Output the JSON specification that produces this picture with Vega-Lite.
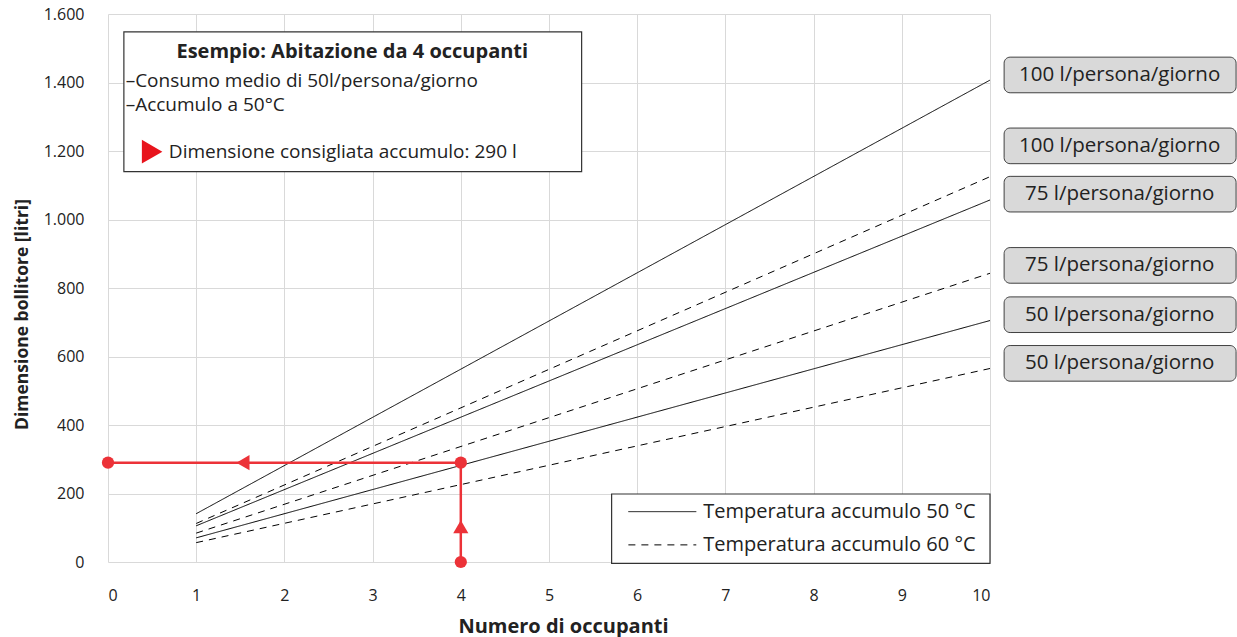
{
  "$schema": "https://vega.github.io/schema/vega-lite/v6.json",
  "width": 882,
  "height": 548,
  "autosize": {"type": "none"},
  "padding": {"left": 108, "top": 14, "right": 247, "bottom": 75},
  "background": "white",
  "config": {
    "font": "Open Sans",
    "view": {"stroke": null},
    "axisX": {
      "grid": true, "gridColor": "#d9d9d9", "gridWidth": 1,
      "domain": false, "ticks": false,
      "labelPadding": 25, "labelFontSize": 16, "labelColor": "#222",
      "titleFontSize": 20, "titleFontWeight": "bold", "titleColor": "#222",
      "titlePadding": 13, "titleX": 455
    },
    "axisY": {
      "grid": true, "gridColor": "#d9d9d9", "gridWidth": 1,
      "domain": false, "ticks": false,
      "labelPadding": 24, "labelFontSize": 16, "labelColor": "#222",
      "titleFontSize": 17.5, "titleFontWeight": "bold", "titleColor": "#222",
      "titlePadding": 12, "titleY": 300
    }
  },
  "datasets": {
    "lines": [
      {"s": "100-50", "t": "50", "x": 1, "y": 141},
      {"s": "100-50", "t": "50", "x": 10, "y": 1407},
      {"s": "100-60", "t": "60", "x": 1, "y": 112.5},
      {"s": "100-60", "t": "60", "x": 10, "y": 1125},
      {"s": "75-50", "t": "50", "x": 1, "y": 105.7},
      {"s": "75-50", "t": "50", "x": 10, "y": 1057},
      {"s": "75-60", "t": "60", "x": 1, "y": 84.3},
      {"s": "75-60", "t": "60", "x": 10, "y": 843},
      {"s": "50-50", "t": "50", "x": 1, "y": 70.5},
      {"s": "50-50", "t": "50", "x": 10, "y": 705},
      {"s": "50-60", "t": "60", "x": 1, "y": 56.5},
      {"s": "50-60", "t": "60", "x": 10, "y": 565}
    ],
    "labels": [
      {"label": "100 l/persona/giorno", "x": 10.16, "x2": 12.79, "xm": 11.47, "y": 1422, "y1": 1370, "y2": 1474},
      {"label": "100 l/persona/giorno", "x": 10.16, "x2": 12.79, "xm": 11.47, "y": 1215, "y1": 1163, "y2": 1267},
      {"label": "75 l/persona/giorno", "x": 10.16, "x2": 12.79, "xm": 11.47, "y": 1074, "y1": 1022, "y2": 1126},
      {"label": "75 l/persona/giorno", "x": 10.16, "x2": 12.79, "xm": 11.47, "y": 866, "y1": 814, "y2": 918},
      {"label": "50 l/persona/giorno", "x": 10.16, "x2": 12.79, "xm": 11.47, "y": 722, "y1": 670, "y2": 774},
      {"label": "50 l/persona/giorno", "x": 10.16, "x2": 12.79, "xm": 11.47, "y": 580, "y1": 528, "y2": 632}
    ],
    "boxes": [
      {"b": "esempio", "x": 0.18, "x2": 5.37, "y": 1139.6, "y2": 1548},
      {"b": "legenda", "x": 5.71, "x2": 10, "y": -4, "y2": 198.5}
    ],
    "boxTitle": [
      {"label": "Esempio: Abitazione da 4 occupanti", "x": 2.77, "y": 1489}
    ],
    "boxText": [
      {"label": "–Consumo medio di 50l/persona/giorno", "x": 0.2, "y": 1404},
      {"label": "–Accumulo a 50°C", "x": 0.2, "y": 1334},
      {"label": "Dimensione consigliata accumulo: 290 l", "x": 0.69, "y": 1198}
    ],
    "legendText": [
      {"label": "Temperatura accumulo 50 °C", "x": 6.75, "y": 147},
      {"label": "Temperatura accumulo 60 °C", "x": 6.75, "y": 50}
    ],
    "boxMarker": [
      {"x": 0.5, "y": 1198}
    ],
    "legendLines": [
      {"t": "50", "x": 5.9, "x2": 6.67, "y": 147},
      {"t": "60", "x": 5.9, "x2": 6.67, "y": 50}
    ],
    "redPath": [
      {"seg": "h", "x": 0, "y": 290, "o": 1},
      {"seg": "h", "x": 4, "y": 290, "o": 2},
      {"seg": "v", "x": 4, "y": 0, "o": 1},
      {"seg": "v", "x": 4, "y": 290, "o": 2}
    ],
    "redPoints": [
      {"x": 0, "y": 290},
      {"x": 4, "y": 290},
      {"x": 4, "y": 0}
    ],
    "redArrows": [
      {"dir": "left", "x": 1.53, "y": 290},
      {"dir": "up", "x": 4, "y": 103}
    ]
  },
  "layer": [
    {
      "data": {"name": "lines"},
      "mark": {"type": "line", "color": "#000", "strokeWidth": 1},
      "encoding": {
        "x": {"field": "x", "type": "quantitative", "scale": {"domain": [0, 10], "nice": false}, "title": "Numero di occupanti",
              "axis": {"values": [0, 1, 2, 3, 4, 5, 6, 7, 8, 9, 10], "format": "d"}},
        "y": {"field": "y", "type": "quantitative", "scale": {"domain": [0, 1600], "nice": false}, "title": "Dimensione bollitore [litri]",
              "axis": {"values": [0, 200, 400, 600, 800, 1000, 1200, 1400, 1600], "labelExpr": "replace(format(datum.value, ','), ',', '.')"}},
        "detail": {"field": "s"},
        "strokeDash": {"field": "t", "type": "nominal", "scale": {"domain": ["50", "60"], "range": [[1, 0], [7, 6]]}, "legend": null}
      }
    },
    {
      "data": {"name": "boxes"},
      "mark": {"type": "rect", "fill": "white", "stroke": "#333", "strokeWidth": 1.2},
      "encoding": {
        "x": {"field": "x", "type": "quantitative", "scale": {"domain": [0, 10], "nice": false}, "title": "Numero di occupanti"},
        "x2": {"field": "x2"},
        "y": {"field": "y", "type": "quantitative", "scale": {"domain": [0, 1600], "nice": false}, "title": "Dimensione bollitore [litri]"},
        "y2": {"field": "y2"}
      }
    },
    {
      "data": {"name": "labels"},
      "mark": {"type": "rect", "fill": "#d9d9d9", "stroke": "#404040", "strokeWidth": 1, "cornerRadius": 6},
      "encoding": {
        "x": {"field": "x", "type": "quantitative", "scale": {"domain": [0, 10], "nice": false}, "title": "Numero di occupanti"},
        "x2": {"field": "x2"},
        "y": {"field": "y1", "type": "quantitative", "scale": {"domain": [0, 1600], "nice": false}, "title": "Dimensione bollitore [litri]"},
        "y2": {"field": "y2"}
      }
    },
    {
      "data": {"name": "labels"},
      "mark": {"type": "text", "fontSize": 20.5, "color": "#222", "align": "center", "baseline": "middle"},
      "encoding": {
        "x": {"field": "xm", "type": "quantitative", "scale": {"domain": [0, 10], "nice": false}, "title": "Numero di occupanti"},
        "y": {"field": "y", "type": "quantitative", "scale": {"domain": [0, 1600], "nice": false}, "title": "Dimensione bollitore [litri]"},
        "text": {"field": "label"}
      }
    },
    {
      "data": {"name": "boxTitle"},
      "mark": {"type": "text", "fontSize": 20, "fontWeight": "bold", "color": "#222", "align": "center", "baseline": "middle"},
      "encoding": {
        "x": {"field": "x", "type": "quantitative", "scale": {"domain": [0, 10], "nice": false}, "title": "Numero di occupanti"},
        "y": {"field": "y", "type": "quantitative", "scale": {"domain": [0, 1600], "nice": false}, "title": "Dimensione bollitore [litri]"},
        "text": {"field": "label"}
      }
    },
    {
      "data": {"name": "boxText"},
      "mark": {"type": "text", "fontSize": 19, "color": "#222", "align": "left", "baseline": "middle"},
      "encoding": {
        "x": {"field": "x", "type": "quantitative", "scale": {"domain": [0, 10], "nice": false}, "title": "Numero di occupanti"},
        "y": {"field": "y", "type": "quantitative", "scale": {"domain": [0, 1600], "nice": false}, "title": "Dimensione bollitore [litri]"},
        "text": {"field": "label"}
      }
    },
    {
      "data": {"name": "legendText"},
      "mark": {"type": "text", "fontSize": 20, "color": "#222", "align": "left", "baseline": "middle"},
      "encoding": {
        "x": {"field": "x", "type": "quantitative", "scale": {"domain": [0, 10], "nice": false}, "title": "Numero di occupanti"},
        "y": {"field": "y", "type": "quantitative", "scale": {"domain": [0, 1600], "nice": false}, "title": "Dimensione bollitore [litri]"},
        "text": {"field": "label"}
      }
    },
    {
      "data": {"name": "boxMarker"},
      "mark": {"type": "point", "shape": "triangle-right", "filled": true, "color": "#e8141c", "size": 560, "opacity": 1},
      "encoding": {
        "x": {"field": "x", "type": "quantitative", "scale": {"domain": [0, 10], "nice": false}, "title": "Numero di occupanti"},
        "y": {"field": "y", "type": "quantitative", "scale": {"domain": [0, 1600], "nice": false}, "title": "Dimensione bollitore [litri]"}
      }
    },
    {
      "data": {"name": "legendLines"},
      "mark": {"type": "rule", "color": "#000", "strokeWidth": 1},
      "encoding": {
        "x": {"field": "x", "type": "quantitative", "scale": {"domain": [0, 10], "nice": false}, "title": "Numero di occupanti"},
        "x2": {"field": "x2"},
        "y": {"field": "y", "type": "quantitative", "scale": {"domain": [0, 1600], "nice": false}, "title": "Dimensione bollitore [litri]"},
        "strokeDash": {"field": "t", "type": "nominal", "scale": {"domain": ["50", "60"], "range": [[1, 0], [7, 6]]}, "legend": null}
      }
    },
    {
      "data": {"name": "redPath"},
      "mark": {"type": "line", "color": "#ec3238", "strokeWidth": 2.5},
      "encoding": {
        "x": {"field": "x", "type": "quantitative", "scale": {"domain": [0, 10], "nice": false}, "title": "Numero di occupanti"},
        "y": {"field": "y", "type": "quantitative", "scale": {"domain": [0, 1600], "nice": false}, "title": "Dimensione bollitore [litri]"},
        "detail": {"field": "seg"},
        "order": {"field": "o"}
      }
    },
    {
      "data": {"name": "redPoints"},
      "mark": {"type": "circle", "color": "#ec3238", "size": 150, "opacity": 1},
      "encoding": {
        "x": {"field": "x", "type": "quantitative", "scale": {"domain": [0, 10], "nice": false}, "title": "Numero di occupanti"},
        "y": {"field": "y", "type": "quantitative", "scale": {"domain": [0, 1600], "nice": false}, "title": "Dimensione bollitore [litri]"}
      }
    },
    {
      "data": {"name": "redArrows"},
      "mark": {"type": "point", "filled": true, "color": "#ec3238", "size": 230, "opacity": 1},
      "encoding": {
        "x": {"field": "x", "type": "quantitative", "scale": {"domain": [0, 10], "nice": false}, "title": "Numero di occupanti"},
        "y": {"field": "y", "type": "quantitative", "scale": {"domain": [0, 1600], "nice": false}, "title": "Dimensione bollitore [litri]"},
        "shape": {"field": "dir", "type": "nominal", "scale": {"domain": ["left", "up"], "range": ["triangle-left", "triangle-up"]}, "legend": null}
      }
    }
  ]
}
